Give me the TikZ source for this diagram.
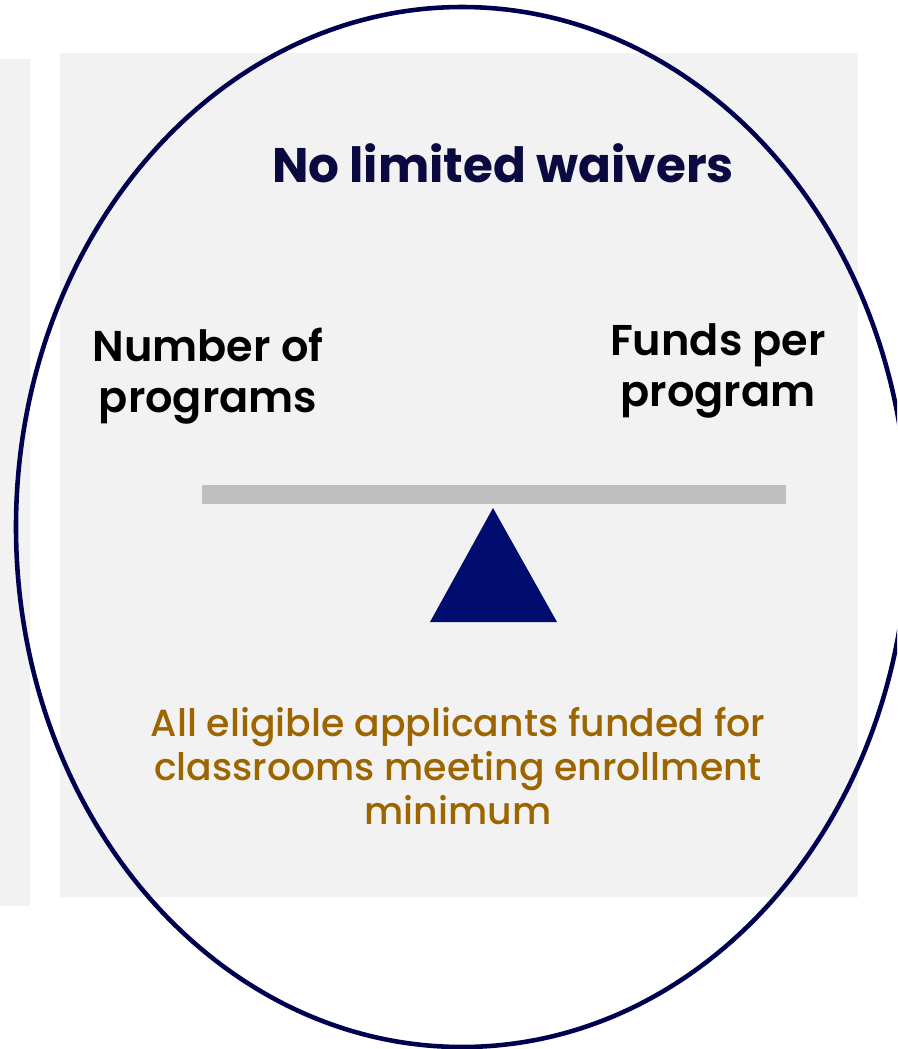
\documentclass[tikz,border=0pt]{standalone}
\usepackage{fontspec}
\setmainfont{Poppins}[BoldFont={Poppins SemiBold}]
\newfontfamily\mediumfont{Poppins Medium}
\newfontfamily\heavyfont{Poppins Bold}
\usepackage{xcolor}
\definecolor{panelgray}{HTML}{F2F2F2}
\definecolor{beamgray}{HTML}{BFBFBF}
\definecolor{ringnavy}{HTML}{000050}
\definecolor{titlenavy}{HTML}{0A0A40}
\definecolor{pivotnavy}{HTML}{000C6E}
\definecolor{notegold}{HTML}{9C6500}

\tikzset{
  sidelabel/.style={align=center, font=\fontsize{24.5}{29.5}\selectfont\bfseries, text=black},
}

\begin{document}
\begin{tikzpicture}[x=0.02cm, y=-0.02cm]
                \useasboundingbox (0,0) rectangle (897,1049);
                \clip (0,0) rectangle (897,1049);

                \fill[panelgray] (0,59) rectangle (30,906);
                \fill[panelgray] (60,53) rectangle (858,897);

                \node[font=\heavyfont\fontsize{27.6}{30}\selectfont, text=titlenavy] (title) at (503,163) {No limited waivers};

                \node[sidelabel] (count) at (208,376) {Number of\\programs};
                \node[sidelabel] (funds) at (718,371) {Funds per\\program};

                \fill[beamgray] (202,485) rectangle (786,504);
                \fill[pivotnavy] (493,508) -- (557,622) -- (430,622) -- cycle;

                \node[align=center, font=\mediumfont\fontsize{21.5}{25}\selectfont, text=notegold] (note) at (458,766)
                    {All eligible applicants funded for\\classrooms meeting enrollment\\minimum};

                \draw[ringnavy, line width=2.6pt] (462,527) ellipse [x radius=446, y radius=520];
            \end{tikzpicture}
\end{document}
